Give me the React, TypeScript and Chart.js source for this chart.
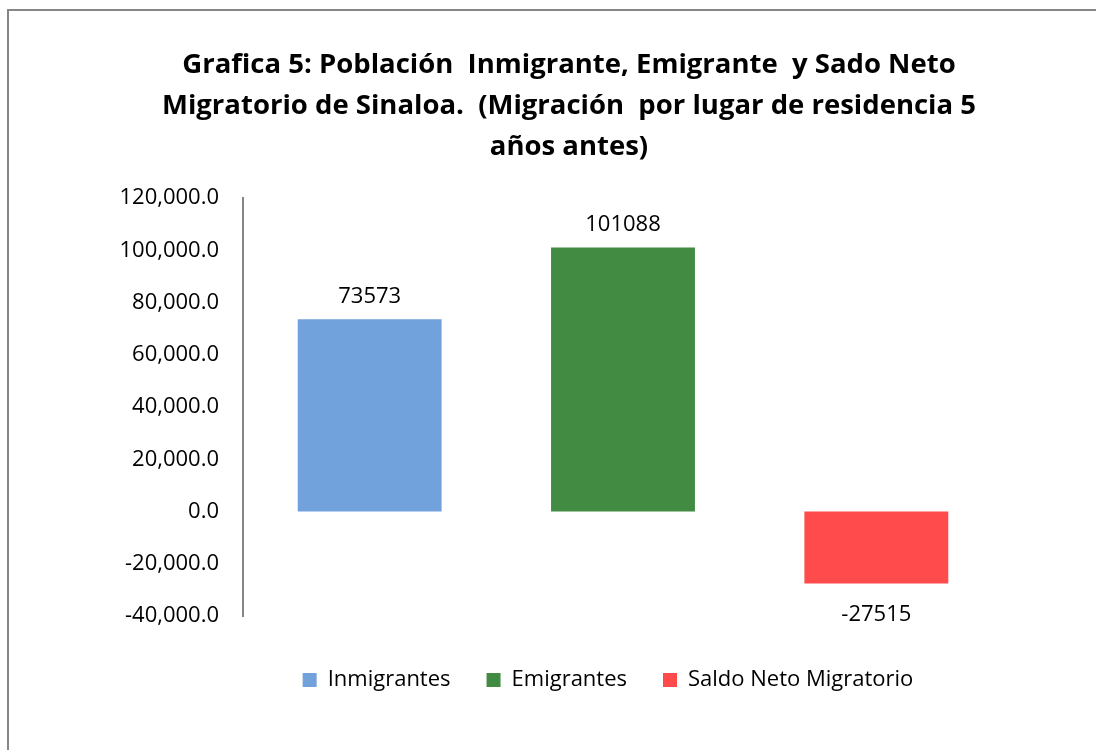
import React, { useEffect, useRef } from "react";
import { Chart, registerables } from "chart.js";

Chart.register(...registerables);

const categories = ["Inmigrantes", "Emigrantes", "Saldo Neto Migratorio"];
const seriesNames = ["Inmigrantes", "Emigrantes", "Saldo Neto Migratorio"];
const inmigrantes = [73573, null, null];
const emigrantes = [null, 101088, null];
const saldoNeto = [null, null, -27515];
const seriesColors = ["#71A2DC", "#418B42", "#FF4B4B"];
const yMin = -40000;
const yMax = 120000;
const yStep = 20000;
const titleLines = [
  "Grafica 5: Población  Inmigrante, Emigrante  y Sado Neto",
  "Migratorio de Sinaloa.  (Migración  por lugar de residencia 5",
  "años antes)",
];

const FONT = "'Open Sans', sans-serif";
const LEGEND_SHIFT = 102;

const valueLabels = {
  id: "valueLabels",
  afterDatasetsDraw(chart: any) {
    const ctx = chart.ctx;
    ctx.save();
    ctx.font = `22px ${FONT}`;
    ctx.fillStyle = "#000";
    ctx.textAlign = "center";
    ctx.textBaseline = "middle";
    chart.data.datasets.forEach((ds: any, di: number) => {
      const meta = chart.getDatasetMeta(di);
      meta.data.forEach((el: any, i: number) => {
        const v = ds.data[i];
        if (v === null || v === undefined) return;
        const y = v >= 0 ? el.y - 23 : el.y + 31;
        ctx.fillText(String(v), el.x, y);
      });
    });
    ctx.restore();
  },
};

const legendShift = {
  id: "legendShift",
  afterLayout(chart: any) {
    const lg = chart.legend;
    if (lg) {
      lg.left += LEGEND_SHIFT;
      lg.right += LEGEND_SHIFT;
    }
  },
};

export default function App() {
  const ref = useRef<HTMLCanvasElement | null>(null);

  useEffect(() => {
    if (!ref.current) return;
    const chart = new Chart(ref.current, {
      type: "bar",
      data: {
        labels: categories,
        datasets: [
          { label: seriesNames[0], data: inmigrantes, backgroundColor: seriesColors[0] },
          { label: seriesNames[1], data: emigrantes, backgroundColor: seriesColors[1] },
          { label: seriesNames[2], data: saldoNeto, backgroundColor: seriesColors[2] },
        ] as any,
      },
      options: {
        responsive: false,
        animation: false,
        layout: { padding: { left: 0, right: 126, top: 187, bottom: 106 } },
        datasets: {
          bar: { grouped: false, categoryPercentage: 1, barPercentage: 0.568 },
        } as any,
        scales: {
          x: {
            display: true,
            ticks: { display: false },
            grid: { display: false, drawTicks: false },
            border: { display: false },
            afterFit: (s: any) => {
              s.height = 17;
            },
          },
          y: {
            min: yMin,
            max: yMax,
            ticks: {
              stepSize: yStep,
              padding: 24,
              color: "#000",
              font: { family: FONT, size: 22 },
              callback: (v: any) =>
                Number(v).toLocaleString("en-US", {
                  minimumFractionDigits: 1,
                  maximumFractionDigits: 1,
                }),
            },
            grid: { display: false, drawTicks: false },
            border: { display: true, color: "#868686", width: 2 },
            afterFit: (s: any) => {
              s.width = 234;
            },
          },
        },
        plugins: {
          title: { display: false },
          tooltip: { enabled: false },
          legend: {
            position: "bottom",
            labels: {
              boxWidth: 14,
              boxHeight: 14,
              padding: 36,
              color: "#000",
              font: { family: FONT, size: 22 },
            },
          },
        },
      },
      plugins: [valueLabels, legendShift],
    });
    return () => chart.destroy();
  }, []);

  return (
    <div
      style={{
        position: "fixed",
        left: 0,
        top: 0,
        width: "100vw",
        height: "100vh",
        overflow: "hidden",
        background: "#fff",
      }}
    >
      <div
        style={{
          position: "absolute",
          left: 7,
          top: 9,
          width: 1124,
          height: 800,
          boxSizing: "border-box",
          border: "2px solid #868686",
        }}
      >
        <canvas
          ref={ref}
          width={1120}
          height={796}
          style={{ position: "absolute", left: 0, top: 0 }}
        />
        <div
          style={{
            position: "absolute",
            left: 0,
            right: 0,
            top: 31,
            textAlign: "center",
            fontFamily: FONT,
            fontWeight: 700,
            fontSize: 27.5,
            lineHeight: "41px",
            color: "#000",
            whiteSpace: "pre",
          }}
        >
          {titleLines.map((l, i) => (
            <div key={i}>{l}</div>
          ))}
        </div>
      </div>
    </div>
  );
}
